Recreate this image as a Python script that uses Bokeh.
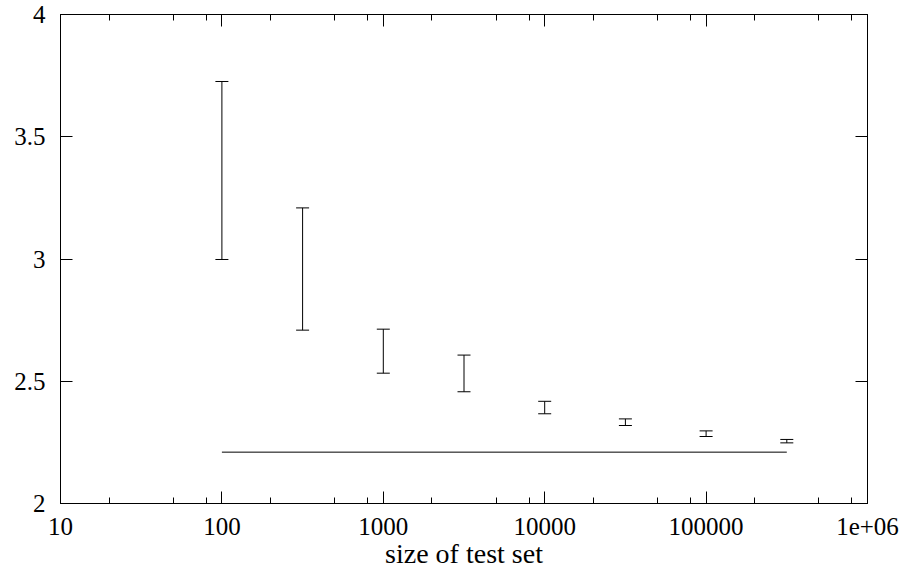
from bokeh.plotting import figure
from bokeh.models import (LogAxis, LinearAxis, FixedTicker, Whisker, ColumnDataSource,
                          Range1d, TeeHead, CustomJSTickFormatter)
from bokeh.embed import file_html
from bokeh.resources import INLINE

# ---- data ----
sizes = [100, 316.23, 1000, 3162.3, 10000, 31623, 100000, 316228]
upper = [3.726, 3.209, 2.713, 2.607, 2.418, 2.346, 2.297, 2.262]
lower = [2.998, 2.709, 2.533, 2.457, 2.367, 2.319, 2.274, 2.248]
ref_x = [100, 316228]
ref_y = [2.210, 2.210]

x_ticks = [10, 100, 1000, 10000, 100000, 1000000]
x_tick_labels = ["10", "100", "1000", "10000", "100000", "1e+06"]
x_minor_mantissa = [2, 5, 8]
y_ticks = [2, 2.5, 3, 3.5, 4]
y_tick_labels = ["2", "2.5", "3", "3.5", "4"]
x_label = "size of test set"

FONT = "serif"
FS = "25px"

x_minor = [m * t for t in x_ticks[:-1] for m in x_minor_mantissa]

LOOKUP = """
let best = -1, bd = 1e-9;
for (let i = 0; i < tv.length; i++) {
  const d = Math.abs(tv[i] - tick) / Math.abs(tv[i]);
  if (d < bd) { bd = d; best = i; }
}
return best >= 0 ? lb[best] : '';
"""


def fmt(tick_vals, labels):
    return CustomJSTickFormatter(args=dict(tv=tick_vals, lb=labels), code=LOOKUP)


p = figure(width=907, height=576, x_axis_type="log",
           x_range=Range1d(10, 1e6), y_range=Range1d(2, 4),
           output_backend="svg", toolbar_location=None,
           min_border_left=60, min_border_right=40,
           min_border_top=14, min_border_bottom=73)
p.grid.visible = False
p.outline_line_color = "black"
p.outline_line_width = 1
p.background_fill_color = "white"
p.border_fill_color = "white"

src = ColumnDataSource(dict(x=sizes, upper=upper, lower=lower))
wh = Whisker(base="x", upper="upper", lower="lower", source=src, dimension="height",
             line_color="black", line_width=1,
             upper_head=TeeHead(size=13, line_color="black", line_width=1),
             lower_head=TeeHead(size=13, line_color="black", line_width=1))
p.add_layout(wh)

p.line(ref_x, ref_y, line_color="black", line_width=1)


def style(ax, show_labels):
    ax.axis_line_color = "black"
    ax.major_tick_line_color = "black"
    ax.minor_tick_line_color = "black"
    ax.major_tick_in = 12
    ax.major_tick_out = 0
    ax.minor_tick_in = 6
    ax.minor_tick_out = 0
    ax.major_label_text_font = FONT
    ax.major_label_text_color = "black"
    if show_labels:
        ax.major_label_text_font_size = FS
        ax.major_label_standoff = 15
    else:
        ax.major_label_text_font_size = "1px"
        ax.major_label_text_alpha = 0
        ax.major_label_standoff = 0


xa = p.xaxis[0]
xa.ticker = FixedTicker(ticks=x_ticks, minor_ticks=x_minor)
xa.formatter = fmt(x_ticks, x_tick_labels)
style(xa, True)
xa.major_label_standoff = 14
xa.axis_label = x_label
xa.axis_label_text_font = FONT
xa.axis_label_text_font_size = "28px"
xa.axis_label_text_font_style = "normal"
xa.axis_label_text_color = "black"
xa.axis_label_standoff = 0

ya = p.yaxis[0]
ya.ticker = FixedTicker(ticks=y_ticks, minor_ticks=[])
ya.formatter = fmt(y_ticks, y_tick_labels)
style(ya, True)

top = LogAxis(ticker=FixedTicker(ticks=x_ticks, minor_ticks=x_minor))
top.formatter = fmt(x_ticks, [""] * len(x_ticks))
style(top, False)
p.add_layout(top, "above")

right = LinearAxis(ticker=FixedTicker(ticks=y_ticks, minor_ticks=[]))
right.formatter = fmt(y_ticks, [""] * len(y_ticks))
style(right, False)
p.add_layout(right, "right")

open("out.html", "w").write(file_html(p, INLINE))
